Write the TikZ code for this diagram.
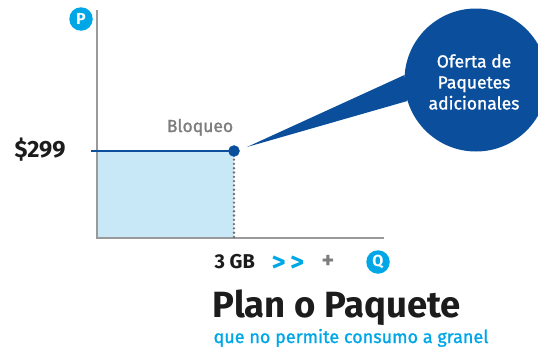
\documentclass[tikz,border=0pt]{standalone}
\usepackage{fontspec}
\setmainfont{Fira Sans}
\newfontfamily\mediumfont{Fira Sans}[FakeBold=1.2]
\definecolor{darkblue}{HTML}{0B4F9C}
\definecolor{cyanblue}{HTML}{00A7E7}
\definecolor{lightblue}{HTML}{C8E8F8}
\definecolor{axisgray}{HTML}{9A9A9A}
\definecolor{dotgray}{HTML}{6E6E6E}
\definecolor{textgray}{HTML}{7D7D7D}
\definecolor{textblack}{HTML}{1C1C1C}

\begin{document}
\begin{tikzpicture}[x=1pt,y=-1pt,
    axislabel/.style={circle, fill=cyanblue, text=white, inner sep=0pt,
        minimum size=23.5pt, font=\bfseries\fontsize{16}{16}\selectfont}]
    \useasboundingbox (0,0) rectangle (538,351);
    % Axes
    \coordinate (origin) at (97,238);
    \coordinate (ptop) at (97,10);
    \coordinate (qend) at (384,238);
    \coordinate (block) at (234,151);
    \coordinate (pstart) at (91,151);
    \coordinate (blockfoot) at (234,238);
    \fill[lightblue] (origin) rectangle (block);
    \draw[axisgray, line width=1.5pt] (ptop) -- (origin) -- (qend);
    \node[axislabel] (P) at (81,19) {P};
    \node[axislabel] (Q) at (378,262) {Q};
    % Price line
    \draw[dotgray, line width=2.6pt, line cap=round, dash pattern=on 0pt off 4.3pt] (block) -- (blockfoot);
    \draw[darkblue, line width=2.5pt] (pstart) -- (block);
    \filldraw[darkblue] (block) circle (5.5pt);
    \node[anchor=base east, text=textblack, font=\bfseries\fontsize{23.5}{23.5}\selectfont] (price) at (69,157.5) {\$299};
    \node[anchor=base, text=textgray, font=\mediumfont\fontsize{17.5}{17.5}\selectfont] (bloqueo) at (200,132) {Bloqueo};
    % Callout
    \coordinate (tip) at (247,147);
    \node[circle, fill=darkblue, minimum size=143pt, inner sep=0pt] (oferta) at (476,80) {};
    \fill[darkblue] (tip) -- (oferta.176) -- (oferta.197) -- cycle;
    \node[text=white, align=center, font=\mediumfont\fontsize{17.5}{21}\selectfont] (ofertatext) at (474,82) {Oferta de\\Paquetes\\adicionales};
    % Quantity labels
    \node[anchor=base west, text=textblack, font=\bfseries\fontsize{20}{20}\selectfont] (gb) at (211,268) {3 GB};
    \node[anchor=base west, text=cyanblue, font=\bfseries\fontsize{27}{27}\selectfont] (more) at (268,271) {>\,>};
    \node[text=textgray, font=\bfseries\fontsize{24}{24}\selectfont] (plus) at (328,262) {+};
    % Title
    \node[anchor=base west, text=textblack, font=\bfseries\fontsize{36.5}{36.5}\selectfont] (title) at (209,317) {Plan o Paquete};
    \node[anchor=base west, text=cyanblue, font=\mediumfont\fontsize{18}{18}\selectfont] (subtitle) at (210,343) {que no permite consumo a granel};
\end{tikzpicture}
\end{document}
